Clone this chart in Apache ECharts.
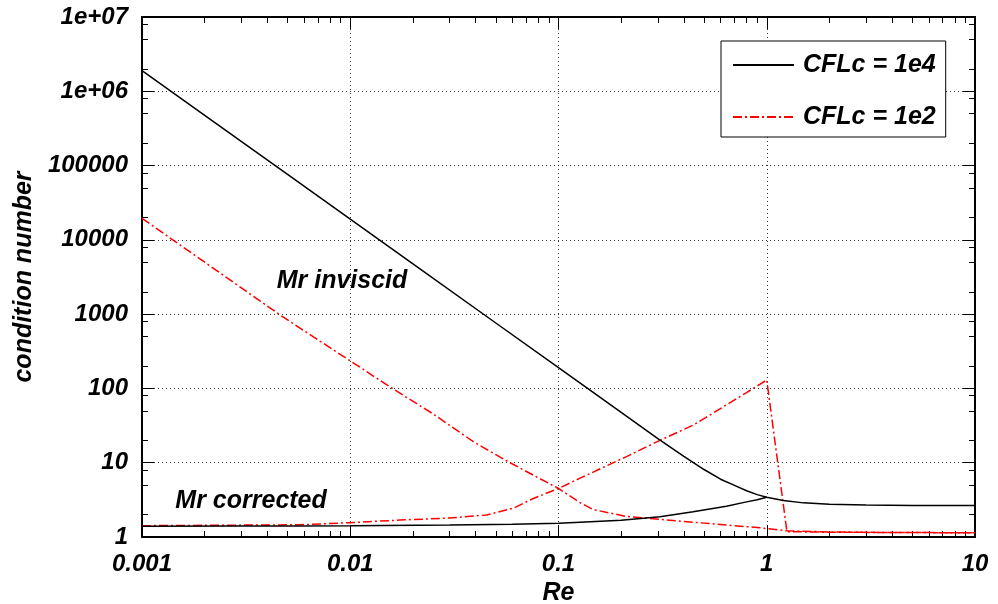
<!DOCTYPE html>
<html><head><meta charset="utf-8">
<script src="https://cdn.jsdelivr.net/npm/echarts@6/dist/echarts.min.js"></script>
<style>html,body{margin:0;padding:0;background:#fff}#c{width:998px;height:604px}</style>
</head><body><div id="c"></div>
<script>
// ---- data ----
const xTickLabels = ['0.001', '0.01', '0.1', '1', '10'];
const yTickLabels = ['1', '10', '100', '1000', '10000', '100000', '1e+06', '1e+07'];
const xMinorMultipliers = [2, 3, 4, 5, 6, 7, 8, 9];
const yMinorMultipliers = [2, 5, 8];
const seriesNames = ['CFLc = 1e4', 'CFLc = 1e2'];

// CFLc = 1e4, "Mr inviscid" branch
const reBlackInviscid = [0.001, 0.002, 0.005, 0.01, 0.02, 0.05, 0.1, 0.2, 0.3, 0.4, 0.5, 0.6, 0.7, 0.8, 0.9, 1.0, 1.2, 1.5, 2, 3, 5, 10];
const condBlackInviscid = [1.9e6, 4.75e5, 7.6e4, 1.9e4, 4.75e3, 760, 190, 47.5, 21.1, 12.2, 8.1, 6.0, 4.95, 4.2, 3.72, 3.42, 3.1, 2.88, 2.77, 2.7, 2.66, 2.65];
// CFLc = 1e4, "Mr corrected" branch
const reBlackCorrected = [0.001, 0.003, 0.0057, 0.01, 0.03, 0.06, 0.1, 0.127, 0.2, 0.307, 0.443, 0.64, 0.8, 0.9, 1.0];
const condBlackCorrected = [1.40, 1.41, 1.41, 1.42, 1.45, 1.49, 1.53, 1.58, 1.68, 1.88, 2.19, 2.6, 2.97, 3.18, 3.42];
// CFLc = 1e2, "Mr inviscid" branch
const reRedInviscid = [0.001, 0.002, 0.0046, 0.00593, 0.01, 0.0155, 0.0251, 0.039, 0.0574, 0.0757, 0.1, 0.127, 0.146, 0.21, 0.307, 0.443, 0.64, 0.93, 1.0, 1.25, 2, 4, 10];
const condRedInviscid = [1.95e4, 5.0e3, 975, 610, 235, 105, 45, 19.2, 10.3, 6.8, 4.5, 2.9, 2.35, 1.9, 1.73, 1.58, 1.45, 1.33, 1.3, 1.21, 1.17, 1.15, 1.14];
// CFLc = 1e2, "Mr corrected" branch
const reRedCorrected = [0.001, 0.0057, 0.01, 0.0173, 0.03, 0.0452, 0.0607, 0.0757, 0.1, 0.127, 0.211, 0.307, 0.443, 0.64, 0.8, 1.0, 1.25, 2, 4, 10];
const condRedCorrected = [1.42, 1.46, 1.56, 1.69, 1.8, 1.98, 2.44, 3.3, 4.5, 6.2, 12, 20, 32, 60, 88, 130, 1.18, 1.16, 1.15, 1.14];

const annotationTexts = ['Mr inviscid', 'Mr corrected'];
const annotationRe = [0.00913, 0.00334];
const annotationCond = [2750, 3.05];

// ---- chart ----
const FONT = 'Liberation Sans';
const tickFont = { fontFamily: FONT, fontWeight: 'bold', fontStyle: 'italic', fontSize: 24, color: '#000' };
const textFont = { fontFamily: FONT, fontWeight: 'bold', fontStyle: 'italic', fontSize: 25, color: '#000' };
const zip = (a, b) => a.map((v, i) => [v, b[i]]);

const xMin = 0.001, xMax = 10, yMin = 1, yMax = 1e7;
const lx0 = Math.log10(xMin), lx1 = Math.log10(xMax), ly0 = Math.log10(yMin), ly1 = Math.log10(yMax);
const xMinorLog = [], yMinorLog = [];
for (let k = lx0; k < lx1; k++) xMinorMultipliers.forEach(m => xMinorLog.push(k + Math.log10(m)));
for (let k = ly0; k < ly1; k++) yMinorMultipliers.forEach(m => yMinorLog.push(k + Math.log10(m)));

const frameLine = () => ({ show: true, onZero: false, lineStyle: { color: '#000', width: 2 } });
const gridDots = { show: true, lineStyle: { color: '#333', type: [1, 3], width: 1 } };
const tickStyle = () => ({ color: '#000', width: 1 });

function majorX(pos, main) {
  return {
    type: 'log', logBase: 10, min: xMin, max: xMax, position: pos,
    axisLine: frameLine(),
    axisTick: { show: true, inside: true, length: 12, lineStyle: tickStyle() },
    minorTick: { show: false },
    axisLabel: main ? Object.assign({ margin: 15, formatter: v => xTickLabels[Math.round(Math.log10(v)) - lx0] }, tickFont) : { show: false },
    splitLine: main ? gridDots : { show: false },
    name: main ? 'Re' : '', nameLocation: 'middle', nameGap: 40, nameTextStyle: textFont
  };
}
function minorX(pos) {
  return {
    type: 'value', min: lx0, max: lx1, position: pos,
    axisLine: { show: false, onZero: false },
    axisTick: { show: true, inside: true, length: 6, customValues: xMinorLog, lineStyle: tickStyle() },
    axisLabel: { show: false }, splitLine: { show: false }
  };
}
function majorY(pos, main) {
  return {
    type: 'log', logBase: 10, min: yMin, max: yMax, position: pos,
    axisLine: frameLine(),
    axisTick: { show: true, inside: true, length: 12, lineStyle: tickStyle() },
    minorTick: { show: false },
    axisLabel: main ? Object.assign({ margin: 14, formatter: v => yTickLabels[Math.round(Math.log10(v)) - ly0] }, tickFont) : { show: false },
    splitLine: main ? gridDots : { show: false },
    name: main ? 'condition number' : '', nameLocation: 'middle', nameGap: 95, nameRotate: 90, nameTextStyle: textFont
  };
}
function minorY(pos) {
  return {
    type: 'value', min: ly0, max: ly1, position: pos,
    axisLine: { show: false, onZero: false },
    axisTick: { show: true, inside: true, length: 6, customValues: yMinorLog, lineStyle: tickStyle() },
    axisLabel: { show: false }, splitLine: { show: false }
  };
}

const blackStyle = { color: '#000', width: 1.5, type: 'solid' };
const redStyle = { color: '#ff0000', width: 1.5, type: [9, 3, 2, 3] };

const chart = echarts.init(document.getElementById('c'), null, { renderer: 'canvas' });
chart.setOption({
  animation: false,
  backgroundColor: '#fff',
  grid: { left: 142, right: 23, top: 17, bottom: 67, containLabel: false, outerBoundsMode: 'none' },
  xAxis: [majorX('bottom', true), majorX('top', false), minorX('bottom'), minorX('top')],
  yAxis: [majorY('left', true), majorY('right', false), minorY('left'), minorY('right')],
  legend: {
    data: seriesNames,
    orient: 'vertical', left: 721, top: 41,
    padding: [11, 10, 7, 11], itemGap: 26, itemWidth: 61, itemHeight: 26,
    backgroundColor: '#fff', borderColor: '#000', borderWidth: 1,
    itemStyle: { color: 'rgba(0,0,0,0)', borderWidth: 0, opacity: 0 },
    textStyle: Object.assign({ lineHeight: 26, padding: [0, 0, 0, 4] }, textFont)
  },
  series: [
    {
      name: seriesNames[0], type: 'line', data: zip(reBlackInviscid, condBlackInviscid),
      symbol: 'none', lineStyle: blackStyle, itemStyle: { color: '#000' }, z: 3,
      markPoint: {
        symbol: 'rect', symbolSize: 1, itemStyle: { color: 'rgba(0,0,0,0)' },
        label: Object.assign({ show: true, position: 'inside', formatter: p => p.name }, textFont),
        data: annotationTexts.map((t, i) => ({ name: t, coord: [annotationRe[i], annotationCond[i]] }))
      }
    },
    { name: seriesNames[0], type: 'line', data: zip(reBlackCorrected, condBlackCorrected), symbol: 'none', lineStyle: blackStyle, itemStyle: { color: '#000' }, z: 3 },
    { name: seriesNames[1], type: 'line', data: zip(reRedInviscid, condRedInviscid), symbol: 'none', lineStyle: redStyle, itemStyle: { color: '#ff0000' }, z: 2 },
    { name: seriesNames[1], type: 'line', data: zip(reRedCorrected, condRedCorrected), symbol: 'none', lineStyle: redStyle, itemStyle: { color: '#ff0000' }, z: 2 }
  ]
});
</script>
</body></html>
